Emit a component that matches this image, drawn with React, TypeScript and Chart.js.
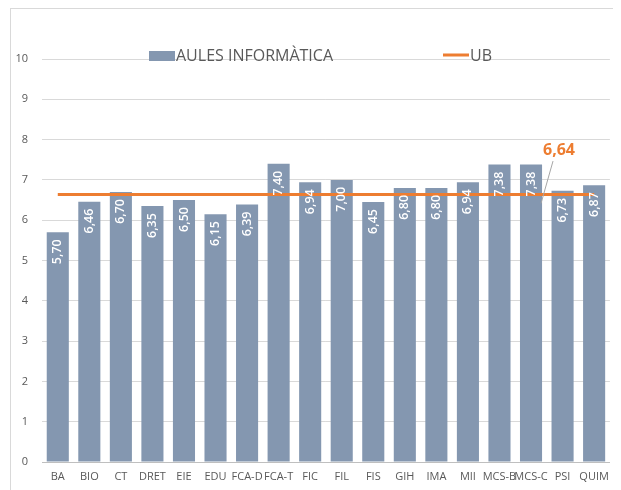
import React, { useEffect, useRef } from "react";
import { Chart, registerables } from "chart.js";

Chart.register(...registerables);

const categories = ["BA", "BIO", "CT", "DRET", "EIE", "EDU", "FCA-D", "FCA-T", "FIC", "FIL", "FIS", "GIH", "IMA", "MII", "MCS-B", "MCS-C", "PSI", "QUIM"];
const aulesValues = [5.70, 6.46, 6.70, 6.35, 6.50, 6.15, 6.39, 7.40, 6.94, 7.00, 6.45, 6.80, 6.80, 6.94, 7.38, 7.38, 6.73, 6.87];
const ubValue = 6.64;
const ubValues = categories.map(() => ubValue);
const ubLabelIndex = 15;
const seriesNames = ["AULES INFORMÀTICA", "UB"];

const BAR = "#8497B0";
const ORANGE = "#ED7D31";
const TXT = "#595959";
const FONT = "'Open Sans', 'Noto Sans', sans-serif";

const fmt = (v: number) => v.toFixed(2).replace(".", ",");

const overlayPlugin = {
  id: "overlay",
  afterDatasetsDraw(chart: any) {
    const ctx = chart.ctx;
    const meta = chart.getDatasetMeta(0);
    ctx.save();
    ctx.fillStyle = "#FFFFFF";
    ctx.font = `600 12.5px ${FONT}`;
    ctx.textAlign = "right";
    ctx.textBaseline = "middle";
    meta.data.forEach((bar: any, i: number) => {
      ctx.save();
      ctx.translate(bar.x, bar.y + 7);
      ctx.rotate(-Math.PI / 2);
      ctx.fillText(fmt(aulesValues[i]), 0, 0);
      ctx.restore();
    });
    // UB label
    const xs = chart.scales.x;
    const ys = chart.scales.y;
    const px = xs.getPixelForValue(ubLabelIndex);
    const lx = px + 28;
    const ly = ys.getPixelForValue(7.74);
    ctx.strokeStyle = "#A6A6A6";
    ctx.lineWidth = 1;
    ctx.beginPath();
    ctx.moveTo(lx - 6, ly + 11);
    ctx.lineTo(px + 10, ys.getPixelForValue(ubValue) + 9);
    ctx.stroke();
    ctx.fillStyle = ORANGE;
    ctx.font = `bold 16px ${FONT}`;
    ctx.textAlign = "center";
    ctx.fillText(fmt(ubValue), lx, ly);
    // legend
    const cy = 47;
    ctx.fillStyle = BAR;
    ctx.fillRect(138, cy - 5, 26, 10);
    ctx.fillStyle = TXT;
    ctx.font = `16px ${FONT}`;
    ctx.textAlign = "left";
    ctx.fillText(seriesNames[0], 165, cy);
    ctx.strokeStyle = ORANGE;
    ctx.lineWidth = 3;
    ctx.beginPath();
    ctx.moveTo(432, cy - 1);
    ctx.lineTo(458, cy - 1);
    ctx.stroke();
    ctx.fillText(seriesNames[1], 459, cy);
    ctx.restore();
  },
};

export default function App() {
  const ref = useRef<HTMLCanvasElement>(null);
  useEffect(() => {
    document.documentElement.style.overflow = "hidden";
    document.body.style.overflow = "hidden";
    const chart = new Chart(ref.current!, {
      type: "bar",
      data: {
        labels: categories,
        datasets: [
          {
            type: "bar",
            label: seriesNames[0],
            data: aulesValues,
            backgroundColor: BAR,
            categoryPercentage: 1,
            barPercentage: 0.7,
            order: 1,
          },
          {
            type: "line",
            label: seriesNames[1],
            data: ubValues,
            borderColor: ORANGE,
            backgroundColor: ORANGE,
            borderWidth: 3,
            pointRadius: 0,
            order: 0,
          } as any,
        ] as any,
      },
      options: {
        animation: false,
        responsive: false,
        layout: { padding: { left: 0, top: 50, right: 4, bottom: 0 } },
        plugins: { legend: { display: false }, tooltip: { enabled: false } },
        scales: {
          x: {
            grid: { display: false, drawTicks: false },
            border: { color: "#BFBFBF" },
            ticks: { color: TXT, font: { size: 11, family: FONT }, autoSkip: false, maxRotation: 0, minRotation: 0, padding: 8 },
            afterFit(s: any) { s.height = 27; },
          },
          y: {
            min: 0,
            max: 10,
            ticks: { stepSize: 1, color: TXT, font: { size: 11, family: FONT }, padding: 14 },
            grid: { color: "#D9D9D9", drawTicks: false },
            border: { display: false },
            afterFit(s: any) { s.width = 31; },
          },
        },
      },
      plugins: [overlayPlugin],
    });
    return () => chart.destroy();
  }, []);
  return (
    <div style={{ marginLeft: 2, width: 606, height: 484, border: "1px solid #D9D9D9" }}>
      <canvas ref={ref} width={606} height={480} style={{ display: "block" }} />
    </div>
  );
}
